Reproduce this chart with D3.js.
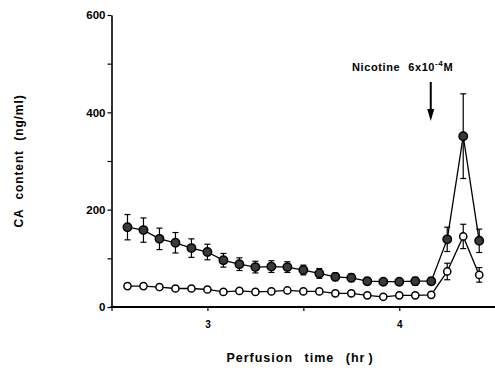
<!DOCTYPE html>
<html>
<head>
<meta charset="utf-8">
<script src="https://cdn.jsdelivr.net/npm/d3@7"></script>
<style>
  html, body { margin: 0; padding: 0; background: #fff; }
  svg { display: block; font-family: "Liberation Sans", Arial, sans-serif; font-weight: bold; }
</style>
</head>
<body>
<svg id="chart" width="495" height="371"></svg>
<script>
// Sampling times (hr), every 5 minutes from 2h35m to 4h25m
const times = d3.range(23).map(i => 2 + (7 + i) / 12);

// CA content (ng/ml), mean and SEM
const filledMean = [164, 158, 140, 132, 121, 113, 96, 88, 82, 83, 82, 76, 69, 62, 60, 53, 52, 52, 53, 53, 139, 351, 136];
const filledErr  = [26, 25, 22, 21, 19, 16, 14, 13, 12, 12, 11, 10, 10, 8, 8, 7, 6, 6, 8, 7, 25, 87, 24];
const openMean   = [43, 43, 41, 38, 38, 36, 31, 33, 31, 32, 34, 32, 32, 28, 28, 24, 21, 24, 24, 25, 73, 145, 66];
const openErr    = [3, 3, 3, 3, 3, 3, 3, 3, 3, 3, 3, 3, 3, 3, 3, 3, 3, 3, 3, 3, 17, 25, 15];

const xTicks = [2.5, 3, 3.5, 4, 4.5];
const xTickLabels = ["", "3", "", "4", ""];
const yTicks = [0, 100, 200, 300, 400, 500, 600];
const yTickLabels = ["0", "", "200", "", "400", "", "600"];

const nicotineTime = 4 + 2 / 12;

const svg = d3.select("#chart");
const x = d3.scaleLinear().domain([2.5, 4.5]).range([111.5, 495.2]);
const y = d3.scaleLinear().domain([0, 600]).range([307, 15]);

// Axes
const xAxis = d3.axisBottom(x).tickValues(xTicks)
  .tickFormat((d, i) => xTickLabels[i]).tickSize(4).tickSizeOuter(0);
const gx = svg.append("g").attr("transform", `translate(0,${y(0)})`).call(xAxis);
gx.select(".domain").attr("stroke-width", 1.8).attr("d", `M${x(2.5) - 1},0H495`);
gx.selectAll(".tick line").attr("stroke-width", 1.2);
gx.selectAll(".tick text").attr("font-size", 10).attr("font-weight", "bold")
  .attr("font-family", "Liberation Sans, Arial, sans-serif").attr("dy", "1.4em");

const yAxis = d3.axisLeft(y).tickValues(yTicks)
  .tickFormat((d, i) => yTickLabels[i]).tickSize(4).tickSizeOuter(0);
const gy = svg.append("g").attr("transform", `translate(${x(2.5)},0)`).call(yAxis);
gy.select(".domain").attr("stroke-width", 1.6);
gy.selectAll(".tick line").attr("stroke-width", 1.2);
gy.selectAll(".tick text").attr("font-size", 11.5).attr("font-weight", "bold")
  .attr("font-family", "Liberation Sans, Arial, sans-serif").attr("x", -6);

// Axis titles
svg.append("text")
  .attr("transform", "translate(23,161) rotate(-90)")
  .attr("text-anchor", "middle")
  .attr("font-size", 12)
  .attr("letter-spacing", 0.9)
  .attr("word-spacing", 5)
  .text("CA content (ng/ml)");

const xt = svg.append("text")
  .attr("x", 300).attr("y", 362)
  .attr("text-anchor", "middle")
  .attr("font-size", 12.5)
  .attr("letter-spacing", 1)
  .attr("word-spacing", 7)
  .text("Perfusion time (hr");
xt.append("tspan").attr("dx", 3).text(")");

// Nicotine annotation
const ann = svg.append("text").attr("x", 352).attr("y", 71).attr("font-size", 11).attr("letter-spacing", 0.6);
ann.append("tspan").text("Nicotine");
ann.append("tspan").attr("dx", 8).text("6x10");
ann.append("tspan").attr("dy", -5).attr("font-size", 8).text("-4");
ann.append("tspan").attr("dy", 5).text("M");

const ax = x(nicotineTime) - 0.5;
svg.append("line").attr("x1", ax).attr("x2", ax).attr("y1", 82).attr("y2", 112)
  .attr("stroke", "#000").attr("stroke-width", 2);
svg.append("path").attr("d", `M${ax - 3.5},109L${ax + 3.5},109L${ax},121Z`).attr("fill", "#000");

// Series drawing
const line = d3.line().x(d => x(d[0])).y(d => y(d[1]));

function drawSeries(means, errs, fill, r) {
  const data = times.map((t, i) => [t, means[i], errs[i]]);
  const g = svg.append("g");
  const eb = g.selectAll(".eb").data(data).enter().append("g");
  eb.append("line").attr("x1", d => x(d[0])).attr("x2", d => x(d[0]))
    .attr("y1", d => y(d[1] - d[2])).attr("y2", d => y(d[1] + d[2]))
    .attr("stroke", "#000").attr("stroke-width", 1.2);
  [-1, 1].forEach(s => {
    eb.append("line").attr("x1", d => x(d[0]) - 3).attr("x2", d => x(d[0]) + 3)
      .attr("y1", d => y(d[1] + s * d[2])).attr("y2", d => y(d[1] + s * d[2]))
      .attr("stroke", "#000").attr("stroke-width", 1.2);
  });
  g.append("path").datum(data).attr("d", line)
    .attr("fill", "none").attr("stroke", "#000").attr("stroke-width", 1.3);
  g.selectAll("circle").data(data).enter().append("circle")
    .attr("cx", d => x(d[0])).attr("cy", d => y(d[1])).attr("r", r)
    .attr("fill", fill).attr("stroke", "#000").attr("stroke-width", 1.5);
}

drawSeries(openMean, openErr, "#fff", 3.6);
drawSeries(filledMean, filledErr, "#3a3a3a", 4.2);
</script>
</body>
</html>
